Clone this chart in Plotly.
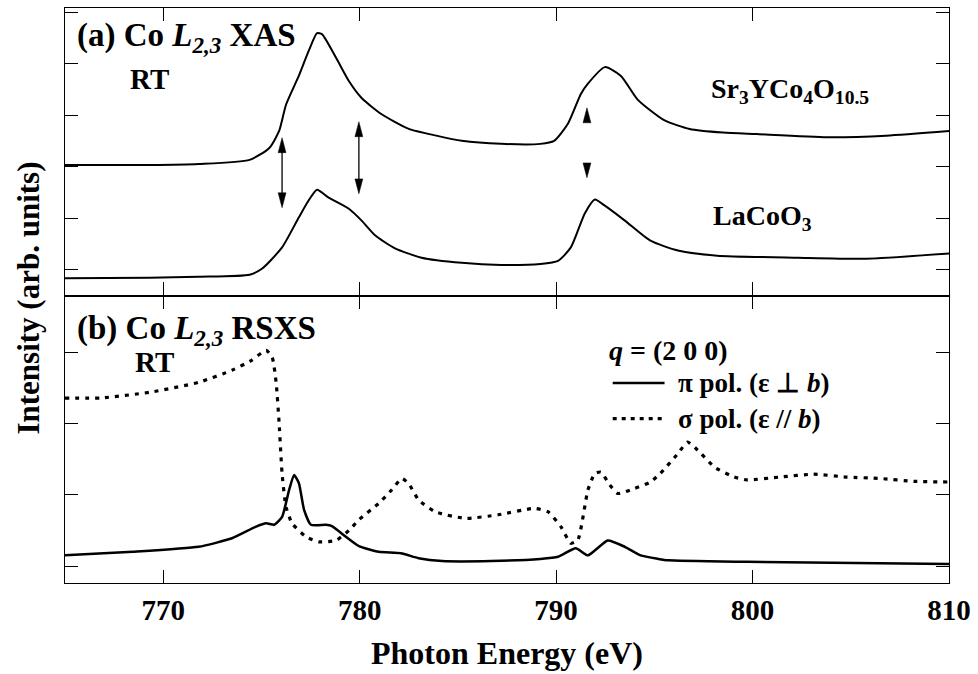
import plotly.graph_objects as go

# ---------------- data ----------------
# Panel (a): Co L2,3 XAS, RT
xas_sr_energy = [765.0, 769.3, 771.8, 774.4, 775.4, 775.9, 776.25, 776.9, 777.4, 777.83, 778.08,
                 778.8, 779.45, 780.1, 781.1, 782.5, 783.9, 785.2, 787.2, 789.2, 789.9, 790.6,
                 791.26, 791.6, 792.48, 793.3, 794.15, 795.5, 796.8, 798.5, 800.2, 803.8, 806.8, 810.0]
xas_sr_int = [2.03, 2.03, 2.05, 2.13, 2.36, 2.69, 3.20, 3.76, 4.24, 4.59, 4.57,
              4.11, 3.66, 3.33, 3.02, 2.73, 2.60, 2.50, 2.44, 2.44, 2.50, 2.83,
              3.41, 3.60, 3.93, 3.76, 3.30, 2.90, 2.73, 2.66, 2.63, 2.57, 2.60, 2.69]

xas_la_energy = [765.0, 769.3, 771.8, 774.4, 775.04, 776.05, 776.9, 777.4, 777.83, 778.4,
                 779.45, 780.1, 780.8, 781.8, 783.15, 785.2, 787.2, 789.2, 790.1, 790.75,
                 791.46, 791.97, 792.48, 793.5, 794.8, 796.2, 798.2, 802.3, 805.8, 810.0]
xas_la_int = [-0.17, -0.16, -0.14, -0.10, 0.02, 0.43, 1.01, 1.34, 1.55, 1.40,
              1.18, 0.95, 0.66, 0.41, 0.23, 0.13, 0.09, 0.11, 0.17, 0.43,
              1.09, 1.36, 1.24, 0.95, 0.56, 0.37, 0.27, 0.23, 0.21, 0.31]

# Panel (b): Co L2,3 RSXS, q = (2 0 0), RT
rsxs_pi_energy = [765.0, 768.45, 771.8, 773.5, 774.7, 775.24, 775.65, 776.05, 776.41, 776.66,
                  776.91, 777.17, 777.52, 778.28, 778.59, 779.3, 779.96, 780.97, 782.1, 783.0,
                  784.2, 786.7, 789.2, 790.1, 791.0, 791.62, 792.63, 793.5, 794.3, 795.2,
                  795.7, 799.7, 810.0]
rsxs_pi_int = [0.15, 0.20, 0.27, 0.39, 0.55, 0.60, 0.58, 0.69, 1.07, 1.28,
               1.16, 0.79, 0.58, 0.58, 0.56, 0.41, 0.28, 0.20, 0.18, 0.11,
               0.07, 0.07, 0.10, 0.13, 0.25, 0.15, 0.36, 0.27, 0.15, 0.10,
               0.08, 0.06, 0.03]

rsxs_sigma_energy = [765.0, 766.8, 769.3, 771.8, 773.5, 774.5, 775.24, 775.55, 775.75, 775.9,
                     776.05, 776.25, 776.56, 777.27, 777.93, 778.8, 779.45, 779.96, 780.97, 781.63,
                     782.14, 782.49, 783.0, 783.86, 785.4, 787.05, 788.9, 789.6, 790.25, 790.75,
                     791.1, 791.62, 791.97, 792.28, 792.73, 793.14, 794.0, 794.8, 795.3, 796.2,
                     796.69, 797.2, 798.06, 799.07, 799.7, 801.4, 803.1, 804.8, 806.5, 808.2, 810.0]
rsxs_sigma_int = [2.36, 2.36, 2.44, 2.58, 2.75, 2.89, 3.03, 2.93, 2.57, 2.01,
                  1.30, 0.83, 0.60, 0.41, 0.34, 0.36, 0.50, 0.65, 0.88, 1.07,
                  1.23, 1.16, 0.93, 0.76, 0.67, 0.72, 0.81, 0.76, 0.55, 0.32,
                  0.36, 1.07, 1.30, 1.32, 1.14, 1.02, 1.09, 1.18, 1.30, 1.58,
                  1.74, 1.63, 1.39, 1.25, 1.21, 1.25, 1.29, 1.25, 1.23, 1.19, 1.18]

x_ticks = [770, 780, 790, 800, 810]
x_tick_labels = ["770", "780", "790", "800", "810"]

# double arrows in panel (a): x position, upper tip, lower tip
double_arrow_x = [776.05, 779.96]
double_arrow_top = [2.56, 2.87]
double_arrow_bottom = [1.20, 1.47]
# separate arrow heads at L2 edge
single_head_x = 791.57
single_head_up = (3.14, 2.85)     # tip, base
single_head_down = (1.78, 2.07)   # tip, base

FONT = "Liberation Serif"
BLACK = "#000000"

fig = go.Figure()

# panel (a) curves
fig.add_trace(go.Scatter(x=xas_sr_energy, y=xas_sr_int, xaxis="x2", yaxis="y2", mode="lines",
                         line=dict(color=BLACK, width=2, shape="spline", smoothing=0.6),
                         showlegend=False, name="Sr3YCo4O10.5"))
fig.add_trace(go.Scatter(x=xas_la_energy, y=xas_la_int, xaxis="x2", yaxis="y2", mode="lines",
                         line=dict(color=BLACK, width=2, shape="spline", smoothing=0.6),
                         showlegend=False, name="LaCoO3"))
# panel (b) curves
fig.add_trace(go.Scatter(x=rsxs_sigma_energy, y=rsxs_sigma_int, xaxis="x", yaxis="y", mode="lines",
                         line=dict(color=BLACK, width=3.2, dash="4px,6px", shape="spline", smoothing=0.5),
                         showlegend=False, name="sigma pol."))
fig.add_trace(go.Scatter(x=rsxs_pi_energy, y=rsxs_pi_int, xaxis="x", yaxis="y", mode="lines",
                         line=dict(color=BLACK, width=2.5, shape="spline", smoothing=0.5),
                         showlegend=False, name="pi pol."))

shapes = []
hw = 0.2  # half width of arrow heads (eV)
hl = 0.29  # head length (a.u.)


def tri(x, tip, base):
    return dict(type="path", xref="x2", yref="y2",
                path=f"M {x - hw},{base} L {x + hw},{base} L {x},{tip} Z",
                fillcolor=BLACK, line=dict(color=BLACK, width=0.5))


for xa, yt, yb in zip(double_arrow_x, double_arrow_top, double_arrow_bottom):
    shapes.append(dict(type="line", xref="x2", yref="y2", x0=xa, x1=xa, y0=yb + 0.1, y1=yt - 0.1,
                       line=dict(color=BLACK, width=1.3)))
    shapes.append(tri(xa, yt, yt - hl))
    shapes.append(tri(xa, yb, yb + hl))
shapes.append(tri(single_head_x, *single_head_up))
shapes.append(tri(single_head_x, *single_head_down))

# legend samples (panel b)
shapes.append(dict(type="line", xref="x", yref="y", x0=792.88, x1=795.52, y0=2.57, y1=2.57,
                   line=dict(color=BLACK, width=2.5)))
shapes.append(dict(type="line", xref="x", yref="y", x0=792.88, x1=795.52, y0=2.07, y1=2.07,
                   line=dict(color=BLACK, width=3.2, dash="4px,5px")))

tf = dict(family=FONT, color=BLACK, weight="bold")


def ann(text, x, y, size, xref, yref):
    return dict(text=text, x=x, y=y, xref=xref, yref=yref, xanchor="left", yanchor="middle",
                showarrow=False, font=dict(size=size, **tf))


annotations = [
    ann("<b>(a) Co <i>L</i><sub><i>2,3</i></sub> XAS</b>", 765.5, 4.50, 33, "x2", "y2"),
    ann("<b>RT</b>", 768.2, 3.70, 29, "x2", "y2"),
    ann("<b>Sr<sub>3</sub>YCo<sub>4</sub>O<sub>10.5</sub></b>", 797.8, 3.47, 28, "x2", "y2"),
    ann("<b>LaCoO<sub>3</sub></b>", 797.9, 1.02, 28, "x2", "y2"),
    ann("<b>(b) Co <i>L</i><sub><i>2,3</i></sub> RSXS</b>", 765.5, 3.31, 33, "x", "y"),
    ann("<b>RT</b>", 768.45, 2.86, 29, "x", "y"),
    ann("<b><i>q</i> = (2 0 0)</b>", 792.6, 3.03, 28, "x", "y"),
    ann("<b>π pol. (ε ⊥ <i>b</i>)</b>", 796.1, 2.57, 27, "x", "y"),
    ann("<b>σ pol. (ε // <i>b</i>)</b>", 796.1, 2.07, 27, "x", "y"),
    dict(text="<b>Intensity (arb. units)</b>", x=-0.0417, y=0.495, xref="paper", yref="paper",
         xanchor="center", yanchor="middle", textangle=-90, showarrow=False,
         font=dict(size=31, **tf)),
]

axis_common = dict(showline=True, linecolor=BLACK, linewidth=1.3, mirror="ticks",
                   ticks="inside", ticklen=13, tickwidth=1.2, tickcolor=BLACK,
                   showgrid=False, zeroline=False)

fig.update_layout(
    width=978, height=674,
    margin=dict(l=65, r=25, t=7, b=91),
    paper_bgcolor="white", plot_bgcolor="white",
    showlegend=False,
    xaxis=dict(domain=[0, 1], anchor="y", range=[765, 810], tickvals=x_ticks, ticktext=x_tick_labels,
               tickfont=dict(size=29, **tf), ticklabelstandoff=1,
               title=dict(text="<b>Photon Energy (eV)</b>", font=dict(size=32, **tf), standoff=16),
               **axis_common),
    xaxis2=dict(domain=[0, 1], anchor="y2", range=[765, 810], matches="x", tickvals=x_ticks,
                showticklabels=False, **axis_common),
    yaxis=dict(domain=[0, 0.5], anchor="x", range=[-0.238, 3.80], tickvals=[0, 1, 2, 3],
               showticklabels=False, **axis_common),
    yaxis2=dict(domain=[0.5, 1], anchor="x2", range=[-0.504, 5.078], tickvals=[0, 1, 2, 3, 4, 5],
                showticklabels=False, **axis_common),
    shapes=shapes,
    annotations=annotations,
)

fig.write_html("out.html", config={"displayModeBar": False},
               post_script="document.body.style.margin='0';document.body.style.overflow='hidden';")
